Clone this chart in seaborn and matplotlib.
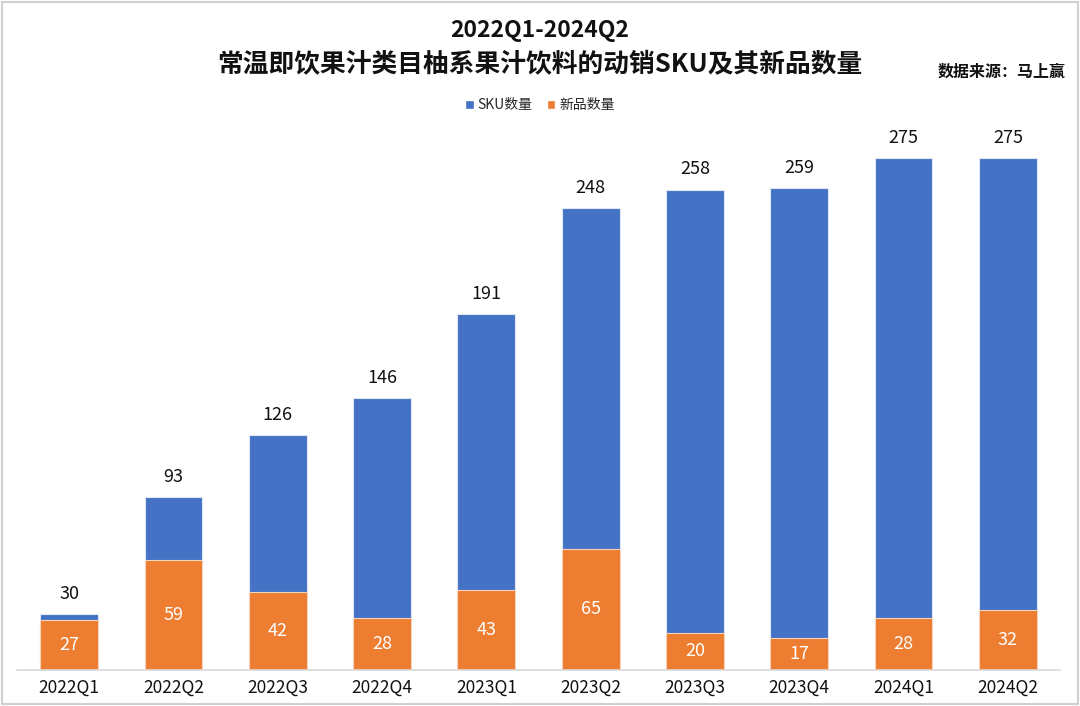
import pandas as pd
import matplotlib
matplotlib.use('Agg')
import matplotlib.pyplot as plt
import seaborn as sns
from matplotlib.patches import Rectangle, Patch

quarters = ['2022Q1', '2022Q2', '2022Q3', '2022Q4', '2023Q1',
            '2023Q2', '2023Q3', '2023Q4', '2024Q1', '2024Q2']
sku_count = [30, 93, 126, 146, 191, 248, 258, 259, 275, 275]
new_count = [27, 59, 42, 28, 43, 65, 20, 17, 28, 32]

df = pd.DataFrame({'quarter': quarters, 'sku': sku_count, 'new': new_count})

sns.set_style('white')
plt.rcParams['font.family'] = ['Noto Sans CJK SC', 'DejaVu Sans']

blue = '#4472C4'
orange = '#ED7D31'

fig = plt.figure(figsize=(10.8, 7.06), dpi=100)
ax = fig.add_axes([17 / 1080, 1 - 670 / 706, 1043 / 1080, 550 / 706])

sns.barplot(data=df, x='quarter', y='sku', color=blue, width=0.555,
            edgecolor='#dfe6f5', linewidth=0.8, ax=ax, saturation=1)
sns.barplot(data=df, x='quarter', y='new', color=orange, width=0.555,
            edgecolor='#f6d3bb', linewidth=0.8, ax=ax, saturation=1)

ax.set_ylim(0, 295.4)
ax.set_xlim(-0.5, len(quarters) - 0.5)
ax.set_xlabel('')
ax.set_ylabel('')
ax.set_yticks([])
for s in ['top', 'left', 'right']:
    ax.spines[s].set_visible(False)
ax.spines['bottom'].set_color('#d9d9d9')
ax.spines['bottom'].set_linewidth(1.2)
ax.tick_params(axis='x', length=0, pad=6, labelsize=12.5, labelcolor='#111111')

for i, (t, n) in enumerate(zip(sku_count, new_count)):
    ax.text(i, t + 6, str(t), ha='center', va='bottom', fontsize=13, color='#111111')
    ax.text(i, n / 2, str(n), ha='center', va='center', fontsize=13, color='white')

fig.text(0.5, 1 - 31 / 706, '2022Q1-2024Q2', ha='center', va='center',
         fontsize=16.5, fontweight='bold', color='#111111')
fig.text(0.5, 1 - 64 / 706, '常温即饮果汁类目柚系果汁饮料的动销SKU及其新品数量',
         ha='center', va='center', fontsize=18.5, fontweight='bold', color='#111111')
fig.text(1066 / 1080, 1 - 72 / 706, '数据来源：马上赢', ha='right', va='center',
         fontsize=11.5, fontweight='bold', color='#111111')

handles = [Patch(facecolor=blue), Patch(facecolor=orange)]
fig.legend(handles, ['SKU数量', '新品数量'], loc='center', ncol=2,
           bbox_to_anchor=(0.5, 1 - 105 / 706), frameon=False, fontsize=10,
           handlelength=0.6, handleheight=0.6, handletextpad=0.3, columnspacing=1.0)

fig.patches.append(Rectangle((0.002, 0.003), 0.996, 0.994, transform=fig.transFigure,
                             fill=False, edgecolor='#d0d0d0', linewidth=1.5))

plt.savefig('out.png', dpi=100)
